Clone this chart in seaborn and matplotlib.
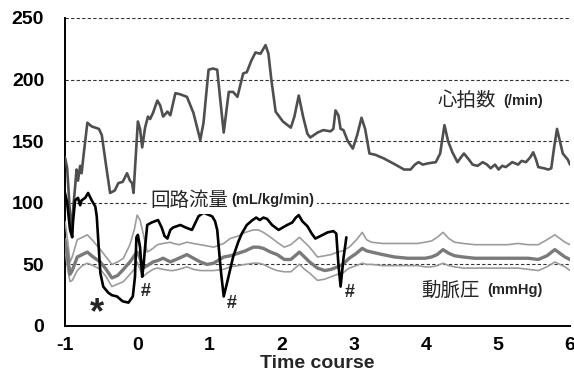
import numpy as np
import pandas as pd
import matplotlib
matplotlib.use("Agg")
import matplotlib.pyplot as plt
import seaborn as sns

# heart rate (/min)
hr_t = [-1, -0.97, -0.93, -0.91, -0.88, -0.86, -0.84, -0.82, -0.79, -0.77, -0.74, -0.69,
        -0.63, -0.58, -0.53, -0.49, -0.43, -0.375, -0.31, -0.26, -0.2, -0.14, -0.1, -0.07,
        -0.05, 0.01, 0.04, 0.07, 0.11, 0.15, 0.18, 0.22, 0.28, 0.32, 0.36, 0.42, 0.46, 0.53,
        0.6, 0.69, 0.78, 0.875, 0.92, 0.99, 1.05, 1.11, 1.15, 1.2, 1.27, 1.33, 1.39, 1.47,
        1.52, 1.58, 1.64, 1.71, 1.78, 1.82, 1.86, 1.92, 2.02, 2.13, 2.18, 2.24, 2.3, 2.36,
        2.4, 2.5, 2.58, 2.68, 2.72, 2.75, 2.79, 2.82, 2.86, 2.92, 2.99, 3.05, 3.11, 3.16,
        3.22, 3.3, 3.42, 3.58, 3.7, 3.79, 3.85, 3.9, 3.96, 4.03, 4.14, 4.2, 4.26, 4.31,
        4.37, 4.44, 4.49, 4.53, 4.6, 4.65, 4.72, 4.79, 4.85, 4.9, 4.96, 5.01, 5.06, 5.11,
        5.2, 5.28, 5.33, 5.39, 5.45, 5.49, 5.53, 5.56, 5.64, 5.7, 5.74, 5.78, 5.82, 5.86,
        5.9, 5.97, 6.0]
hr = [137, 128, 90, 78, 100, 113, 127, 118, 130, 124, 140, 165,
      162, 161, 160, 155, 130, 108, 110, 116, 117, 124, 118, 116,
      108, 166, 160, 145, 161, 170, 168, 173, 183, 179, 170, 174, 171, 189,
      188, 186, 173, 151, 165, 208, 209, 208, 185, 157, 190, 190, 186, 205,
      206, 215, 222, 221, 228, 221, 200, 174, 166, 161, 170, 187, 170, 156,
      153, 157, 159, 158, 160, 175, 171, 160, 159, 150, 144, 155, 169, 160,
      140, 139, 136, 131, 127, 127, 131, 133, 131, 132, 133, 140, 163, 150,
      141, 133, 137, 140, 135, 131, 130, 133, 131, 128, 131, 127, 130, 129,
      133, 131, 134, 133, 137, 141, 135, 129, 128, 127, 128, 145, 160, 150,
      140, 135, 131]

# circuit flow (mL/kg/min)
flow_t = [-1, -0.97, -0.93, -0.9, -0.89, -0.86, -0.82, -0.79, -0.77, -0.72, -0.68, -0.63,
          -0.58, -0.56, -0.51, -0.47, -0.4, -0.35, -0.28, -0.2, -0.12, -0.06, -0.03, -0.01,
          0.01, 0.04, 0.07, 0.09, 0.11, 0.14, 0.2, 0.29, 0.34, 0.38, 0.42, 0.46, 0.5, 0.6,
          0.67, 0.76, 0.85, 0.92, 1.04, 1.08, 1.11, 1.16, 1.2, 1.25, 1.33, 1.4, 1.45, 1.52,
          1.6, 1.65, 1.7, 1.75, 1.8, 1.87, 1.96, 2.08, 2.15, 2.2, 2.24, 2.29, 2.36, 2.42,
          2.47, 2.54, 2.64, 2.72, 2.76, 2.79, 2.82, 2.86, 2.9]
flow = [108, 100, 78, 72, 84, 102, 104, 98, 102, 104, 108, 102,
        97, 89, 43, 32, 27, 25, 24, 20, 19, 24, 40, 72,
        74, 64, 40, 50, 64, 82, 84, 86, 80, 73, 71, 78, 80, 82,
        80, 78, 89, 92, 89, 85, 78, 45, 24, 36, 56, 68, 75, 82,
        86, 88, 86, 88, 87, 82, 78, 82, 84, 88, 90, 85, 81, 75,
        71, 73, 76, 77, 75, 50, 32, 55, 72]

# arterial pressure (mmHg): mean and band
ap_t = [-1, -0.96, -0.93, -0.9, -0.83, -0.76, -0.69, -0.61, -0.51, -0.43, -0.35, -0.27,
        -0.19, -0.1, -0.04, 0.0, 0.04, 0.08, 0.14, 0.22, 0.28, 0.36, 0.46, 0.5, 0.58,
        0.69, 0.78, 0.875, 0.97, 1.06, 1.2, 1.29, 1.4, 1.5, 1.61, 1.68, 1.75, 1.85, 1.94,
        2.04, 2.13, 2.25, 2.32, 2.39, 2.5, 2.6, 2.69, 2.78, 2.85, 2.94, 3.04, 3.12, 3.18,
        3.25, 3.4, 3.57, 3.75, 3.89, 3.99, 4.08, 4.16, 4.24, 4.32, 4.4, 4.52, 4.68, 4.84,
        5.0, 5.14, 5.28, 5.42, 5.56, 5.68, 5.79, 5.86, 5.93, 6.0]
ap_mean = [70, 55, 42, 45, 56, 58, 60, 56, 52, 46, 39, 41, 46, 52, 57, 60, 55, 47, 49, 52,
           53, 55, 52, 53, 55, 58, 55, 52, 50, 51, 56, 57, 59, 61, 64, 64, 63, 60, 58, 54,
           54, 60, 56, 52, 47, 45, 46, 48, 50, 55, 59, 63, 61, 60, 58, 56, 55, 55, 55, 56,
           58, 62, 59, 57, 56, 55, 55, 55, 55, 55, 55, 54, 57, 62, 59, 56, 54]
ap_high = [85, 68, 52, 56, 70, 72, 74, 69, 62, 56, 50, 52, 55, 66, 78, 90, 86, 76, 60, 63,
           66, 67, 68, 67, 66, 68, 67, 66, 65, 64, 67, 71, 73, 76, 78, 78, 76, 72, 68, 64,
           66, 72, 68, 64, 56, 57, 58, 60, 61, 64, 70, 76, 70, 68, 67, 67, 67, 67, 68, 69,
           72, 76, 71, 68, 67, 66, 66, 66, 66, 67, 66, 66, 70, 74, 71, 68, 66]
ap_low = [62, 45, 36, 37, 45, 49, 51, 49, 46, 40, 32, 34, 36, 42, 46, 52, 46, 40, 43, 46,
          47, 46, 45, 45, 46, 48, 46, 45, 45, 45, 46, 48, 49, 50, 51, 51, 50, 47, 45, 44,
          44, 50, 46, 43, 37, 38, 40, 42, 43, 47, 49, 51, 50, 50, 49, 49, 49, 49, 48, 48,
          49, 51, 49, 48, 47, 47, 47, 47, 47, 47, 46, 45, 48, 52, 50, 48, 45]

x_ticks = [-1, 0, 1, 2, 3, 4, 5, 6]
y_ticks = [0, 50, 100, 150, 200, 250]

sns.set_style("white")
plt.rcParams['font.family'] = ['Liberation Sans', 'Noto Sans CJK JP', 'DejaVu Sans']
plt.rcParams['axes.unicode_minus'] = False

fig = plt.figure(figsize=(5.74, 3.75), dpi=100)
ax = fig.add_axes([65 / 574, 1 - 326 / 375, (570 - 65) / 574, (326 - 18) / 375])

ap = pd.DataFrame({"t": ap_t, "mean": ap_mean, "high": ap_high, "low": ap_low})
sns.lineplot(data=ap, x="t", y="high", ax=ax, color="#9c9c9c", linewidth=1.2, zorder=3)
sns.lineplot(data=ap, x="t", y="low", ax=ax, color="#9c9c9c", linewidth=1.2, zorder=3)
sns.lineplot(data=ap, x="t", y="mean", ax=ax, color="#7a7a7a", linewidth=2.4, zorder=3)
sns.lineplot(x=hr_t, y=hr, ax=ax, color="#4f4f4f", linewidth=1.9, zorder=4)
sns.lineplot(x=flow_t, y=flow, ax=ax, color="black", linewidth=1.9, zorder=5)

ax.set_xlim(-1, 6)
ax.set_ylim(0, 250)
ax.set_xticks(x_ticks)
ax.set_yticks(y_ticks)
ax.yaxis.grid(True, linestyle=(0, (3, 2)), color="#333333", linewidth=0.8)
ax.set_axisbelow(True)
for s in ["top", "right"]:
    ax.spines[s].set_visible(False)
for s in ["left", "bottom"]:
    ax.spines[s].set_color("black")
    ax.spines[s].set_linewidth(1.4)
ax.tick_params(axis="both", direction="inout", length=6, width=1.2, colors="black",
               labelsize=14)
ax.tick_params(axis="y", pad=12)
ax.tick_params(axis="x", pad=5)
for lab in ax.get_xticklabels() + ax.get_yticklabels():
    lab.set_fontweight("bold")
ax.set_ylabel("")
ax.set_xlabel("Time course", fontsize=14, fontweight="bold")
ax.xaxis.set_label_coords(0.5, -0.095)

box = dict(facecolor="white", edgecolor="none", pad=2)
cjk = ['Noto Sans CJK JP', 'DejaVu Sans']
ax.text(0.18, 102, "回路流量", family=cjk, fontsize=14, va="center", ha="left",
        bbox=box, zorder=6)
ax.text(1.31, 102, "(mL/kg/min)", fontsize=10.5, fontweight="bold", va="center",
        ha="left", bbox=box, zorder=6)
ax.text(4.17, 183, "心拍数", family=cjk, fontsize=14, va="center", ha="left")
ax.text(5.07, 183, "(/min)", fontsize=10.5, fontweight="bold", va="center", ha="left")
ax.text(3.94, 29, "動脈圧", family=cjk, fontsize=14, va="center", ha="left")
ax.text(4.85, 29, "(mmHg)", fontsize=10.5, fontweight="bold", va="center", ha="left")

ax.text(-0.56, 2, "*", fontsize=26, fontweight="bold", ha="center", va="baseline")
ax.text(0.125, 28, "#", fontsize=13, fontweight="bold", ha="center", va="center")
ax.text(1.31, 18, "#", fontsize=13, fontweight="bold", ha="center", va="center")
ax.text(2.94, 27, "#", fontsize=13, fontweight="bold", ha="center", va="center")

fig.savefig("out.png", dpi=100)
